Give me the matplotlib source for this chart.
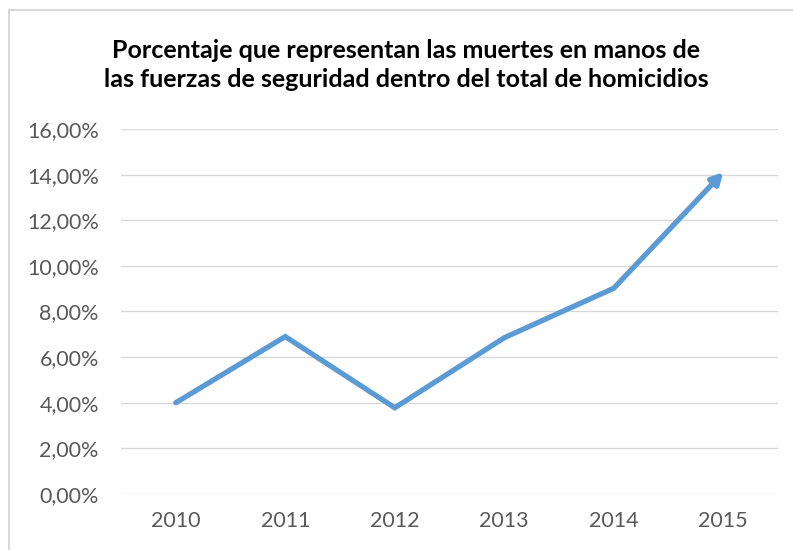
"""
Line chart: share of homicides committed by security forces, 2010-2015.
"""

import matplotlib.pyplot as plt
from matplotlib.lines import Line2D
from matplotlib.ticker import FuncFormatter

years = ['2010', '2011', '2012', '2013', '2014', '2015']
percentages = [4.0, 6.9, 3.78, 6.85, 9.02, 14.1]
y_ticks = [0, 2, 4, 6, 8, 10, 12, 14, 16]

TITLE = ('Porcentaje que representan las muertes en manos de\n'
         'las fuerzas de seguridad dentro del total de homicidios')

BLUE = '#5B9BD5'
GRID = '#D9D9D9'
TEXT = '#595959'


def pct_label(v, _pos):
    return f'{v:.2f}%'.replace('.', ',')


def main():

    plt.rcParams['font.family'] = ['Lato', 'DejaVu Sans']

    fig = plt.figure(figsize=(7.93, 5.5), dpi=100)
    ax = fig.add_axes([0.1526, 0.1018, 0.8285, 0.6637])

    x = list(range(len(years)))

    # Line up to the last-but-one point, then an arrow for the final segment.
    ax.plot(x[:-1], percentages[:-1], color=BLUE, lw=3.8,
            solid_joinstyle='miter', solid_capstyle='round', zorder=3)
    ax.annotate('', xy=(x[-1], percentages[-1]),
                xytext=(x[-2], percentages[-2]),
                arrowprops=dict(arrowstyle='-|>,head_length=0.65,head_width=0.35',
                                color=BLUE, lw=3.8, shrinkA=0, shrinkB=0),
                zorder=3)

    ax.set_xlim(-0.5, len(years) - 0.5)
    ax.set_ylim(0, 16)
    ax.set_xticks(x)
    ax.set_xticklabels(years)
    ax.set_yticks(y_ticks)
    ax.yaxis.set_major_formatter(FuncFormatter(pct_label))

    ax.grid(axis='y', color=GRID, lw=1.0)
    ax.set_axisbelow(True)
    for side in ax.spines:
        ax.spines[side].set_visible(False)
    ax.tick_params(length=0, labelsize=15.5, colors=TEXT)
    ax.tick_params(axis='y', pad=16)
    ax.tick_params(axis='x', pad=12)

    fig.text(0.512, 0.882, TITLE, ha='center', va='center',
             fontsize=18, fontweight='bold', color='black', linespacing=1.33)

    # Chart frame (only top and left edges visible in the crop)
    fig.add_artist(Line2D([9 / 793, 1], [1 - 10 / 550, 1 - 10 / 550],
                          color='#D9D9D9', lw=1.5))
    fig.add_artist(Line2D([9 / 793, 9 / 793], [0, 1 - 10 / 550],
                          color='#D9D9D9', lw=1.5))

    fig.savefig('out.png', dpi=100)


if __name__ == '__main__':
    main()
